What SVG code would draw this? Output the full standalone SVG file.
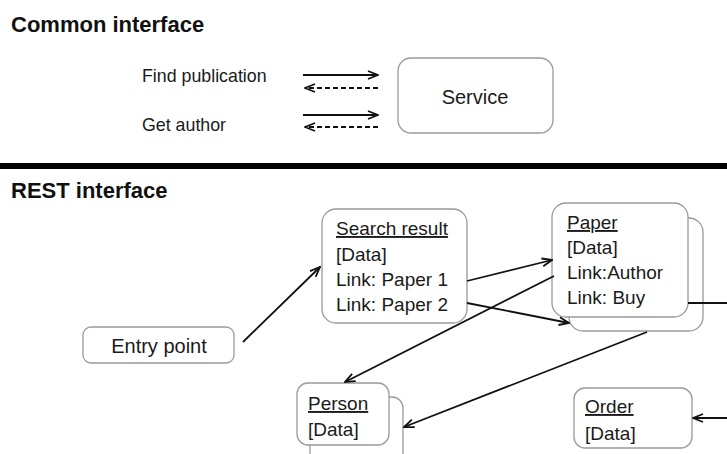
<svg xmlns="http://www.w3.org/2000/svg" width="727" height="454" viewBox="0 0 727 454">
<defs>
<marker id="arr" viewBox="0 0 12 10" refX="11" refY="5" markerWidth="12" markerHeight="10" markerUnits="userSpaceOnUse" orient="auto">
<path d="M1,1 L11,5 L1,9" fill="none" stroke="#111" stroke-width="1.8"/>
</marker>
<style>
.t{font-family:"Liberation Sans",Arial,sans-serif;fill:#1a1a1a}
.h{font-family:"Liberation Sans",Arial,sans-serif;font-weight:bold;font-size:22px;fill:#111}
.box{fill:#fff;stroke:#9a9a9a;stroke-width:1.3}
.c{fill:none;stroke:#111;stroke-width:1.8;marker-end:url(#arr)}
.d{stroke-dasharray:5,3}
.n{font-size:19px}
</style>
</defs>
<rect width="727" height="454" fill="#fff"/>
<text class="h" x="11" y="32">Common interface</text>
<text class="t" x="142" y="82" font-size="17.8">Find publication</text>
<text class="t" x="142" y="131" font-size="17.8">Get author</text>
<g id="service">
<rect class="box" x="398" y="58" width="155" height="75" rx="13"/>
<text class="t" x="475" y="104" font-size="20" text-anchor="middle">Service</text>
</g>
<rect x="0" y="163" width="727" height="6" fill="#000"/>
<text class="h" x="11" y="198">REST interface</text>
<g id="entry">
<rect class="box" x="83" y="327" width="151" height="36" rx="8"/>
<text class="t" x="159" y="353" font-size="20" text-anchor="middle">Entry point</text>
</g>
<g id="search">
<rect class="box" x="322" y="209" width="145" height="114" rx="14"/>
<text class="t n" x="336" y="235" text-decoration="underline">Search result</text>
<text class="t n" x="336" y="261">[Data]</text>
<text class="t n" x="336" y="286">Link: Paper 1</text>
<text class="t n" x="336" y="311">Link: Paper 2</text>
</g>
<g id="paper">
<rect class="box" x="569" y="218" width="134" height="113" rx="14"/>
<rect class="box" x="552" y="203" width="136" height="114" rx="14"/>
<text class="t n" x="567" y="229" text-decoration="underline">Paper</text>
<text class="t n" x="567" y="254">[Data]</text>
<text class="t n" x="567" y="279">Link:Author</text>
<text class="t n" x="567" y="304">Link: Buy</text>
</g>
<g id="person">
<rect class="box" x="310" y="397" width="93" height="70" rx="11"/>
<rect class="box" x="297" y="383" width="92" height="62" rx="11"/>
<text class="t n" x="308" y="410" text-decoration="underline">Person</text>
<text class="t n" x="308" y="436">[Data]</text>
</g>
<g id="order">
<rect class="box" x="574" y="388" width="118" height="60" rx="11"/>
<text class="t n" x="585" y="413" text-decoration="underline">Order</text>
<text class="t n" x="585" y="440">[Data]</text>
</g>
<g id="connectors">
<line class="c" x1="303" y1="75" x2="378" y2="75"/>
<line class="c d" x1="378" y1="88" x2="305" y2="88"/>
<line class="c" x1="303" y1="115" x2="378" y2="115"/>
<line class="c d" x1="378" y1="127" x2="305" y2="127"/>
<line class="c" x1="243" y1="342" x2="320" y2="267"/>
<line class="c" x1="467" y1="281" x2="552" y2="260"/>
<line class="c" x1="467" y1="303" x2="569" y2="323"/>
<line class="c" x1="554" y1="276" x2="345" y2="382"/>
<line class="c" x1="647" y1="332" x2="404" y2="427"/>
<line x1="688" y1="303" x2="727" y2="303" stroke="#111" stroke-width="1.8"/>
<line class="c" x1="727" y1="418" x2="693" y2="418"/>
</g>
</svg>
